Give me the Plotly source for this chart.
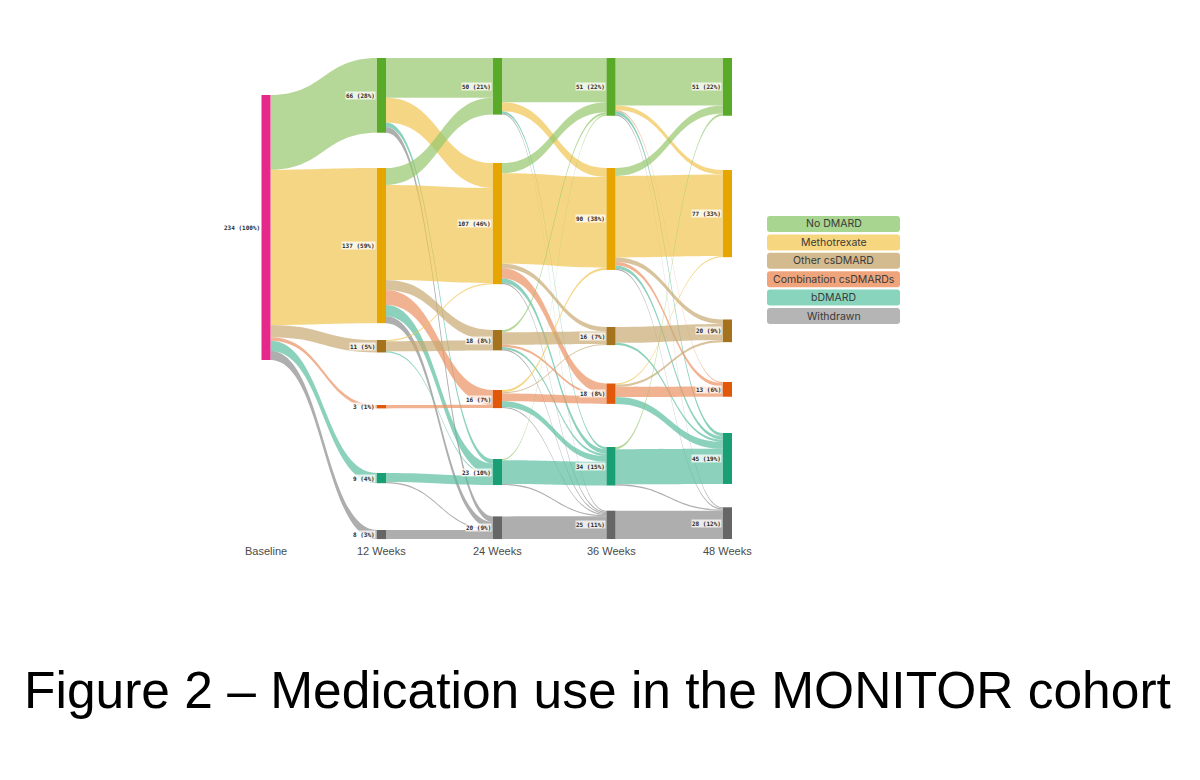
import plotly.graph_objects as go

# ---------------- data ----------------
categories = ["No DMARD", "Methotrexate", "Other csDMARD",
              "Combination csDMARDs", "bDMARD", "Withdrawn"]
timepoints = ["Baseline", "12 Weeks", "24 Weeks", "36 Weeks", "48 Weeks"]
baseline_label = "Baseline"
baseline_total = 234

# baseline -> 12 weeks (patients in each category at 12 weeks)
baseline_to_12 = [66, 137, 11, 3, 9, 8]

# transition matrices: rows = source category, columns = target category
w12_to_24 = [
    [35, 22, 0, 0, 4, 5],
    [15, 84, 9, 13, 10, 6],
    [0, 1, 9, 0, 1, 0],
    [0, 0, 0, 3, 0, 0],
    [0, 0, 0, 0, 8, 1],
    [0, 0, 0, 0, 0, 8],
]
w24_to_36 = [
    [39, 8, 0, 0, 2, 1],
    [9, 80, 4, 9, 4, 1],
    [2, 0, 11, 2, 2, 1],
    [0, 2, 1, 7, 5, 1],
    [1, 0, 0, 0, 21, 1],
    [0, 0, 0, 0, 0, 20],
]
w36_to_48 = [
    [42, 4, 0, 1, 3, 1],
    [7, 72, 4, 3, 3, 1],
    [0, 0, 14, 0, 2, 0],
    [0, 1, 2, 9, 6, 0],
    [2, 0, 0, 0, 31, 1],
    [0, 0, 0, 0, 0, 25],
]
transitions = [w12_to_24, w24_to_36, w36_to_48]

title_text = "Figure 2 \u2013 Medication use in the MONITOR cohort"

# ---------------- styles / layout ----------------
node_colors = ["#5aaa2a", "#e6a500", "#a5721d", "#e2580b", "#1a9e74", "#666666"]
baseline_color = "#e7288b"
link_colors = ["rgba(150,200,110,0.70)", "rgba(240,196,80,0.70)",
               "rgba(200,170,115,0.70)", "rgba(235,145,100,0.70)",
               "rgba(90,190,160,0.70)", "rgba(140,140,140,0.70)"]
legend_fill = ["#a8d58f", "#f6d67f", "#d3bb8f", "#f0a47c", "#88d4bd", "#b5b5b5"]

FW, FH = 1200, 780
col_x_px = [266, 381.5, 497.5, 611, 727.5]         # node centres (px)
node_top_px = [[95],
               [58, 168, 340, 405, 473, 530],
               [58, 163, 330, 390, 459, 516.4],
               [58, 168, 327, 383.5, 447, 510.7],
               [58, 170, 319.5, 382, 433, 507.3]]
dom_x = (250, 745)
dom_y = (58, 539)
px_per_unit = 265 / baseline_total
node_thickness = 9


def col_sums(m):
    return [sum(r[j] for r in m) for j in range(len(m[0]))]


col_values = [[baseline_total], baseline_to_12] + [col_sums(m) for m in transitions]

# ---------------- build nodes ----------------
node_names, node_cols, node_x, node_y, node_custom = [], [], [], [], []
label_ann = []
dw = dom_x[1] - dom_x[0]
dh = dom_y[1] - dom_y[0]


def node_index(t, c):
    return 0 if t == 0 else 1 + (t - 1) * len(categories) + c


for t, vals in enumerate(col_values):
    for c, v in enumerate(vals):
        name = baseline_label if t == 0 else categories[c]
        node_names.append(name)
        node_cols.append(baseline_color if t == 0 else node_colors[c])
        top = node_top_px[t][c]
        cy = top + v * px_per_unit / 2
        cx = col_x_px[t]
        node_x.append((cx - dom_x[0]) / dw)
        node_y.append((cy - dom_y[0]) / dh)
        pct = round(v / baseline_total * 100)
        node_custom.append(f"{timepoints[t]}: {name}")
        label_ann.append(dict(
            x=(cx - node_thickness / 2 - 1) / FW, y=1 - cy / FH,
            xref="paper", yref="paper", xanchor="right", yanchor="middle",
            text=f"<b>{v} ({pct}%)</b>", showarrow=False,
            font=dict(family="DejaVu Sans Mono", size=6, color="#2a2a2a"),
            bgcolor="rgba(255,255,255,0.75)", borderpad=0))

# ---------------- build links ----------------
src, tgt, val, lcol = [], [], [], []
for c, v in enumerate(baseline_to_12):
    if v > 0:
        src.append(0); tgt.append(node_index(1, c)); val.append(v)
        lcol.append(link_colors[c])
for k, m in enumerate(transitions):
    for i, row in enumerate(m):
        for j, v in enumerate(row):
            if v > 0:
                src.append(node_index(k + 1, i))
                tgt.append(node_index(k + 2, j))
                val.append(v)
                lcol.append(link_colors[j])

pad = (dh - baseline_total * px_per_unit) / 5

fig = go.Figure(go.Sankey(
    arrangement="fixed",
    domain=dict(x=[dom_x[0] / FW, dom_x[1] / FW],
                y=[1 - dom_y[1] / FH, 1 - dom_y[0] / FH]),
    node=dict(label=[""] * len(node_names), color=node_cols,
              x=node_x, y=node_y, pad=pad, thickness=node_thickness,
              line=dict(width=0), customdata=node_custom,
              hovertemplate="%{customdata}: %{value}<extra></extra>"),
    link=dict(source=src, target=tgt, value=val, color=lcol),
))

annotations = list(label_ann)

# column labels
for t, name in enumerate(timepoints):
    annotations.append(dict(
        x=col_x_px[t] / FW, y=1 - 551 / FH, xref="paper", yref="paper",
        xanchor="center", yanchor="middle", text=name, showarrow=False,
        font=dict(family="Liberation Sans, Arial", size=11, color="#4a4a4a")))

# legend
shapes = []
lx0, lx1 = 767, 900
ltop0, lstep, lh, r = 216, 18.4, 16, 3
for i, cat in enumerate(categories):
    y0 = ltop0 + i * lstep
    y1 = y0 + lh
    X0, X1 = lx0 / FW, lx1 / FW
    Y0, Y1 = 1 - y1 / FH, 1 - y0 / FH
    rx, ry = r / FW, r / FH
    path = (f"M {X0+rx} {Y0} L {X1-rx} {Y0} Q {X1} {Y0} {X1} {Y0+ry} "
            f"L {X1} {Y1-ry} Q {X1} {Y1} {X1-rx} {Y1} L {X0+rx} {Y1} "
            f"Q {X0} {Y1} {X0} {Y1-ry} L {X0} {Y0+ry} Q {X0} {Y0} {X0+rx} {Y0} Z")
    shapes.append(dict(type="path", path=path, xref="paper", yref="paper",
                       fillcolor=legend_fill[i], line=dict(width=0), layer="below"))
    annotations.append(dict(
        x=(lx0 + lx1) / 2 / FW, y=1 - (y0 + lh / 2) / FH, xref="paper", yref="paper",
        xanchor="center", yanchor="middle", text=cat, showarrow=False,
        font=dict(family="Inter, Liberation Sans", size=10.5, color="#3a3a3a")))

# title
annotations.append(dict(
    x=597 / FW, y=1 - 690 / FH, xref="paper", yref="paper",
    xanchor="center", yanchor="middle", text=title_text, showarrow=False,
    font=dict(family="Liberation Sans, Arial", size=51.5, color="#000000")))

fig.update_layout(
    width=FW, height=FH, margin=dict(l=0, r=0, t=0, b=0),
    paper_bgcolor="white", plot_bgcolor="white",
    annotations=annotations, shapes=shapes, showlegend=False,
)

fig.write_html("out.html", config={"displayModeBar": False},
               post_script="document.body.style.margin='0';document.body.style.overflow='hidden';")
